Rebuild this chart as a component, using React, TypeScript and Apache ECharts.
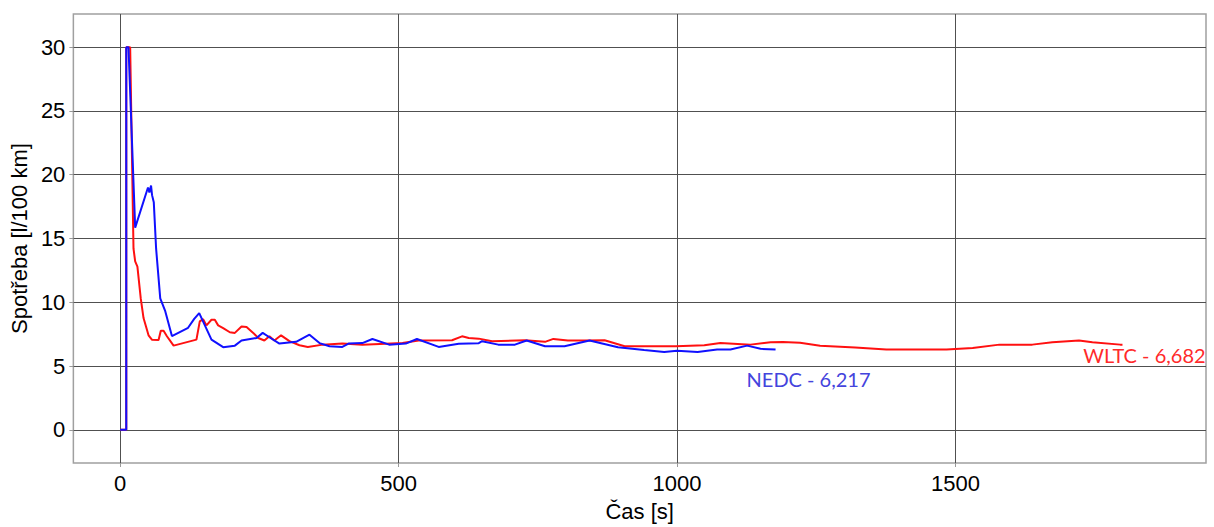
import React, { useEffect, useRef } from "react";
import * as echarts from "echarts";

const xTicks = [0, 500, 1000, 1500];
const yTicks = [0, 5, 10, 15, 20, 25, 30];

const nedcTime = [0, 11, 11, 15, 27, 50, 52.5, 55.5, 57.3, 60.4, 64.6, 72, 81, 93, 122, 133, 142, 164, 185, 206, 218, 245, 256, 268, 286, 316, 340, 358, 376, 399, 411, 435, 453, 483, 513, 533, 572, 608, 644, 650, 679, 709, 730, 763, 798, 843, 894, 941, 977, 1000, 1037, 1072, 1096, 1126, 1150, 1177];
const nedcValue = [0, 0, 30, 30, 15.85, 19.0, 18.6, 19.15, 18.4, 17.85, 14.2, 10.3, 9.3, 7.35, 8.0, 8.7, 9.15, 7.07, 6.48, 6.6, 7.0, 7.2, 7.6, 7.26, 6.76, 6.9, 7.46, 6.8, 6.55, 6.5, 6.77, 6.8, 7.12, 6.68, 6.76, 7.12, 6.5, 6.74, 6.79, 6.95, 6.68, 6.68, 7.0, 6.55, 6.55, 7.0, 6.48, 6.25, 6.11, 6.2, 6.11, 6.3, 6.3, 6.6, 6.35, 6.29];

const wltcTime = [0, 11, 11, 18, 24, 27, 31, 37, 42, 51, 57, 69, 73, 78, 84, 96, 137, 143, 149, 155, 164, 170, 176, 185, 197, 206, 218, 227, 239, 248, 259, 268, 277, 289, 304, 322, 337, 364, 399, 435, 507, 536, 596, 614, 626, 644, 668, 727, 763, 778, 804, 834, 870, 906, 953, 998, 1049, 1078, 1132, 1168, 1190, 1221, 1257, 1320, 1376, 1430, 1484, 1531, 1579, 1638, 1674, 1722, 1746, 1796, 1800];
const wltcValue = [0, 0, 30, 30, 14.2, 13.2, 12.8, 10.3, 8.76, 7.41, 7.07, 7.05, 7.77, 7.77, 7.34, 6.6, 7.07, 8.5, 8.68, 8.19, 8.63, 8.63, 8.19, 7.98, 7.65, 7.6, 8.1, 8.06, 7.6, 7.2, 7.0, 7.33, 7.0, 7.41, 6.95, 6.63, 6.5, 6.68, 6.76, 6.68, 6.81, 7.0, 7.02, 7.33, 7.2, 7.15, 6.95, 7.02, 6.9, 7.13, 7.0, 7.0, 7.02, 6.55, 6.55, 6.55, 6.63, 6.81, 6.68, 6.87, 6.88, 6.82, 6.6, 6.45, 6.29, 6.3, 6.29, 6.42, 6.68, 6.68, 6.87, 7.0, 6.87, 6.68, 6.68];

const nedcLabel = "NEDC - 6,217";
const wltcLabel = "WLTC - 6,682";

const zip = (a: number[], b: number[]) => a.map((v, i) => [v, b[i]]);

export default function App() {
  const ref = useRef<HTMLDivElement>(null);
  useEffect(() => {
    if (!ref.current) return;
    const chart = echarts.init(ref.current, undefined, { renderer: "svg" });
    const axisFont = { fontFamily: "'Liberation Sans', Arial, sans-serif", fontSize: 22, color: "#000" };
    const nedcLast = nedcTime.length - 1;
    const wltcLast = wltcTime.length - 1;
    chart.setOption({
      animation: false,
      grid: { left: 70, right: 8, top: 14, bottom: 61, show: true, borderColor: "#a0a0a0", borderWidth: 1.5, containLabel: false },
      xAxis: {
        type: "value",
        min: -84,
        max: 1950,
        name: "Čas [s]",
        nameLocation: "middle",
        nameGap: 37,
        nameTextStyle: axisFont,
        axisLine: { show: false, onZero: false },
        axisTick: { show: true, length: 4, customValues: xTicks, lineStyle: { color: "#999" } },
        axisLabel: { ...axisFont, margin: 9, customValues: xTicks, formatter: (v: number) => String(v) },
        splitLine: { show: true, lineStyle: { color: "#505050", width: 1 } },
      },
      yAxis: {
        type: "value",
        min: -2.6,
        max: 32.6,
        name: "Spotřeba [l/100 km]",
        nameLocation: "middle",
        nameGap: 38,
        nameTextStyle: axisFont,
        axisLine: { show: false, onZero: false },
        axisTick: { show: true, length: 4, customValues: yTicks, lineStyle: { color: "#999" } },
        axisLabel: { ...axisFont, margin: 8, customValues: yTicks, formatter: (v: number) => String(v) },
        splitLine: { show: true, lineStyle: { color: "#505050", width: 1 } },
      },
      series: [
        {
          name: "WLTC",
          type: "line",
          data: zip(wltcTime, wltcValue),
          showSymbol: false,
          lineStyle: { color: "#ff1010", width: 2 },
          itemStyle: { color: "#ff1010" },
          markPoint: {
            symbolSize: 0,
            data: [{ coord: [wltcTime[wltcLast], wltcValue[wltcLast]] }],
            label: {
              show: true,
              position: "inside",
              formatter: wltcLabel,
              offset: [22, 10],
              fontFamily: "Lato, 'Open Sans', sans-serif",
              fontSize: 20,
              color: "#ff2a2a",
            },
          },
        },
        {
          name: "NEDC",
          type: "line",
          data: zip(nedcTime, nedcValue),
          showSymbol: false,
          lineStyle: { color: "#1010ff", width: 2 },
          itemStyle: { color: "#1010ff" },
          markPoint: {
            symbolSize: 0,
            data: [{ coord: [nedcTime[nedcLast], nedcValue[nedcLast]] }],
            label: {
              show: true,
              position: "inside",
              formatter: nedcLabel,
              offset: [33, 29],
              fontFamily: "Lato, 'Open Sans', sans-serif",
              fontSize: 20,
              color: "#4444dd",
            },
          },
        },
      ],
    });
    return () => chart.dispose();
  }, []);
  return <div ref={ref} style={{ width: 1214, height: 527, position: "absolute", left: 0, top: 0 }} />;
}
